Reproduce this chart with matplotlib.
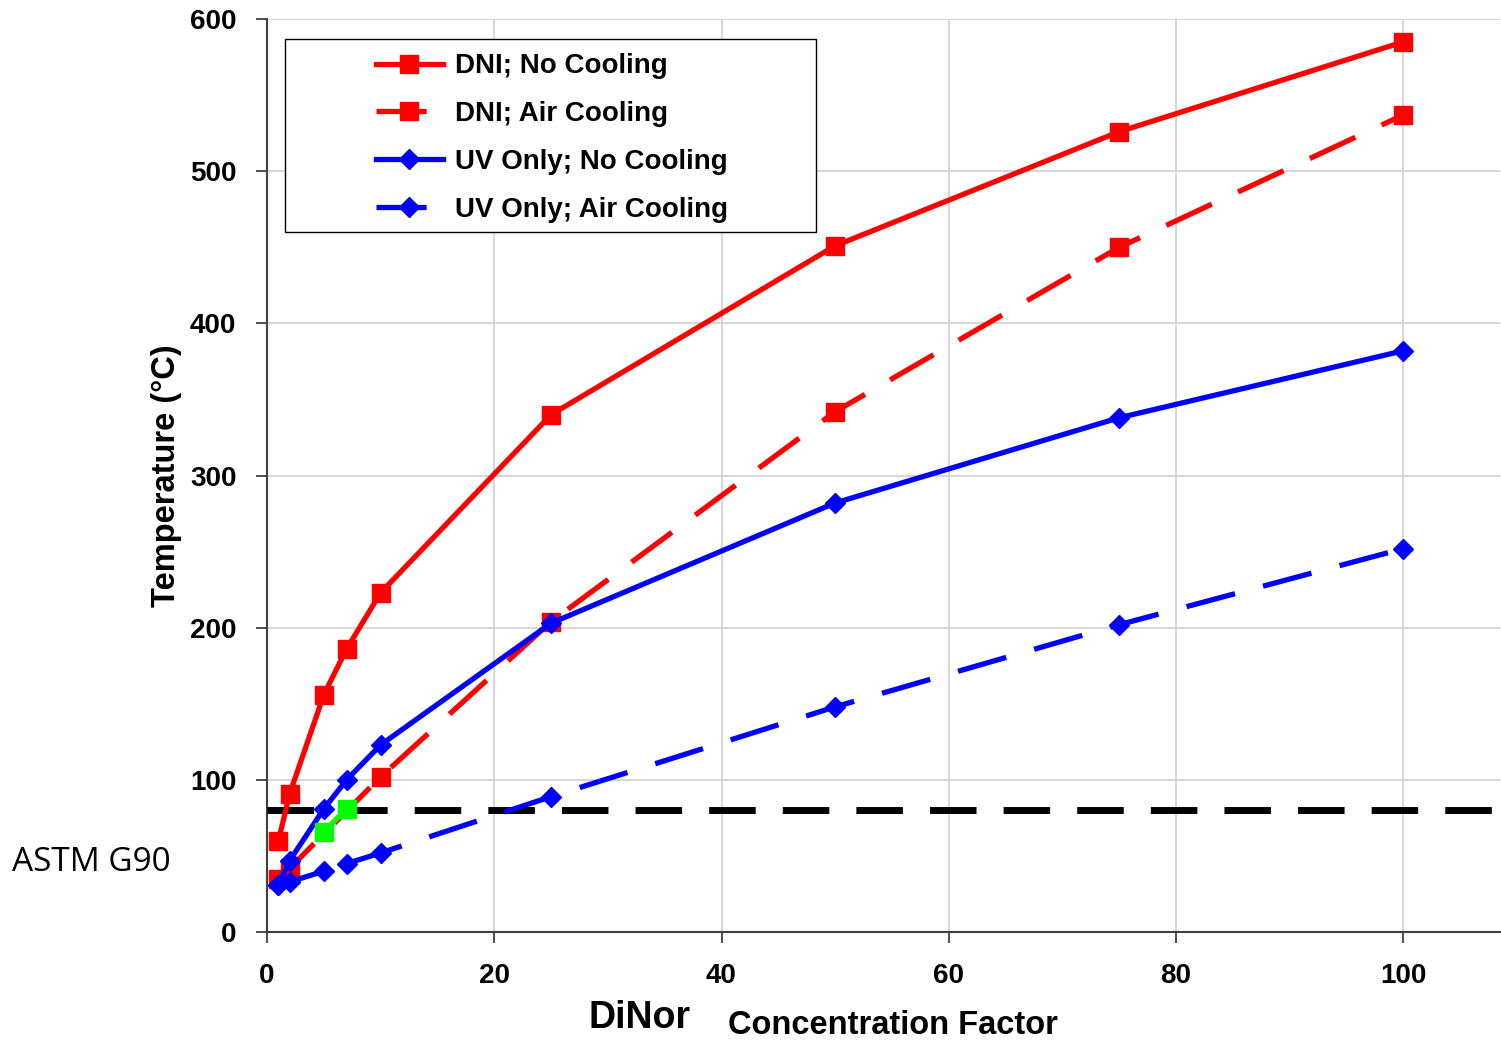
import matplotlib
matplotlib.use("Agg")
import matplotlib.pyplot as plt
from matplotlib.patches import Rectangle

# concentration factor (x) and temperature in degC (y)
x_vals = [1, 2, 5, 7, 10, 25, 50, 75, 100]
dni_no_cool = [60, 91, 156, 186, 223, 340, 451, 526, 585]
dni_air_cool = [35, 42, None, None, 102, 204, 342, 450, 537]
uv_no_cool = [31, 47, 81, 100, 123, 203, 282, 338, 382]
uv_air_cool = [31, 33, 40, 45, 52, 89, 148, 202, 252]

green_x = [5, 7]
green_y = [66, 81]
astm_g90 = 80

def pairs(xs, ys):
    pts = [(a, b) for a, b in zip(xs, ys) if b is not None]
    return [p[0] for p in pts], [p[1] for p in pts]

plt.rcParams["font.family"] = ["Liberation Sans", "DejaVu Sans"]

fig = plt.figure(figsize=(15.01, 10.40), dpi=100)
ax = fig.add_axes([0.1779, 0.1038, 0.8214, 0.8779])

lw = 3.8
dash = (9.5, 5.5)
ax.plot(*pairs(x_vals, dni_no_cool), color="#ff0000", lw=lw, marker="s", ms=12.5,
        label="DNI; No Cooling", zorder=4)
ax.plot(*pairs(x_vals, dni_air_cool), color="#ff0000", lw=lw, marker="s", ms=12.5,
        dashes=dash, label="DNI; Air Cooling", zorder=4)
ax.plot(*pairs(x_vals, uv_no_cool), color="#0000ff", lw=lw, marker="D", ms=10,
        label="UV Only; No Cooling", zorder=5)
ax.plot(*pairs(x_vals, uv_air_cool), color="#0000ff", lw=lw, marker="D", ms=10,
        dashes=dash, label="UV Only; Air Cooling", zorder=5)
ax.axhline(astm_g90, color="black", lw=5, dashes=(6.7, 3.9), zorder=3)
ax.plot(green_x, green_y, color="#00ff00", lw=lw, marker="s", ms=12.5, zorder=6)

ax.set_xlim(0, 108.5)
ax.set_ylim(0, 600)
ax.set_xticks(range(0, 101, 20))
ax.set_yticks(range(0, 601, 100))
ax.grid(True, color="#d0d0d0", lw=1.2)
ax.set_axisbelow(True)
for s in ["top", "right"]:
    ax.spines[s].set_visible(False)
for s in ["left", "bottom"]:
    ax.spines[s].set_color("#404040")
    ax.spines[s].set_linewidth(1.5)
ax.tick_params(axis="both", direction="out", length=8, width=1.3, color="#404040",
               labelsize=20, pad=14)
for t in ax.get_xticklabels() + ax.get_yticklabels():
    t.set_fontweight("bold")

fig.text(0.1106, 0.543, "Temperature (\u00b0C)", fontsize=23.5, fontweight="bold",
         rotation=90, ha="center", va="center")
fig.text(0.485, 0.006, "Concentration Factor", fontsize=23.5, fontweight="bold",
         ha="left", va="baseline")
fig.text(0.392, 0.012, "DiNor", fontsize=27, fontweight="bold", ha="left", va="baseline")
fig.text(0.008, 0.1625, "ASTM G90", fontsize=24, family=["Open Sans", "DejaVu Sans"],
         ha="left", va="baseline")

# legend box drawn separately, entries sit toward its right side
ax.add_patch(Rectangle((0.0146, 0.7667), 0.4307, 0.2114, transform=ax.transAxes,
                       facecolor="white", edgecolor="black", lw=1.0, zorder=7))
leg = ax.legend(loc="upper left", bbox_to_anchor=(0.0884, 0.9625),
                prop={"weight": "bold", "size": 20}, frameon=False,
                handlelength=2.4, borderpad=0, labelspacing=0.79,
                handletextpad=0.45, borderaxespad=0)
leg.set_zorder(8)

fig.savefig("out.png", dpi=100)
